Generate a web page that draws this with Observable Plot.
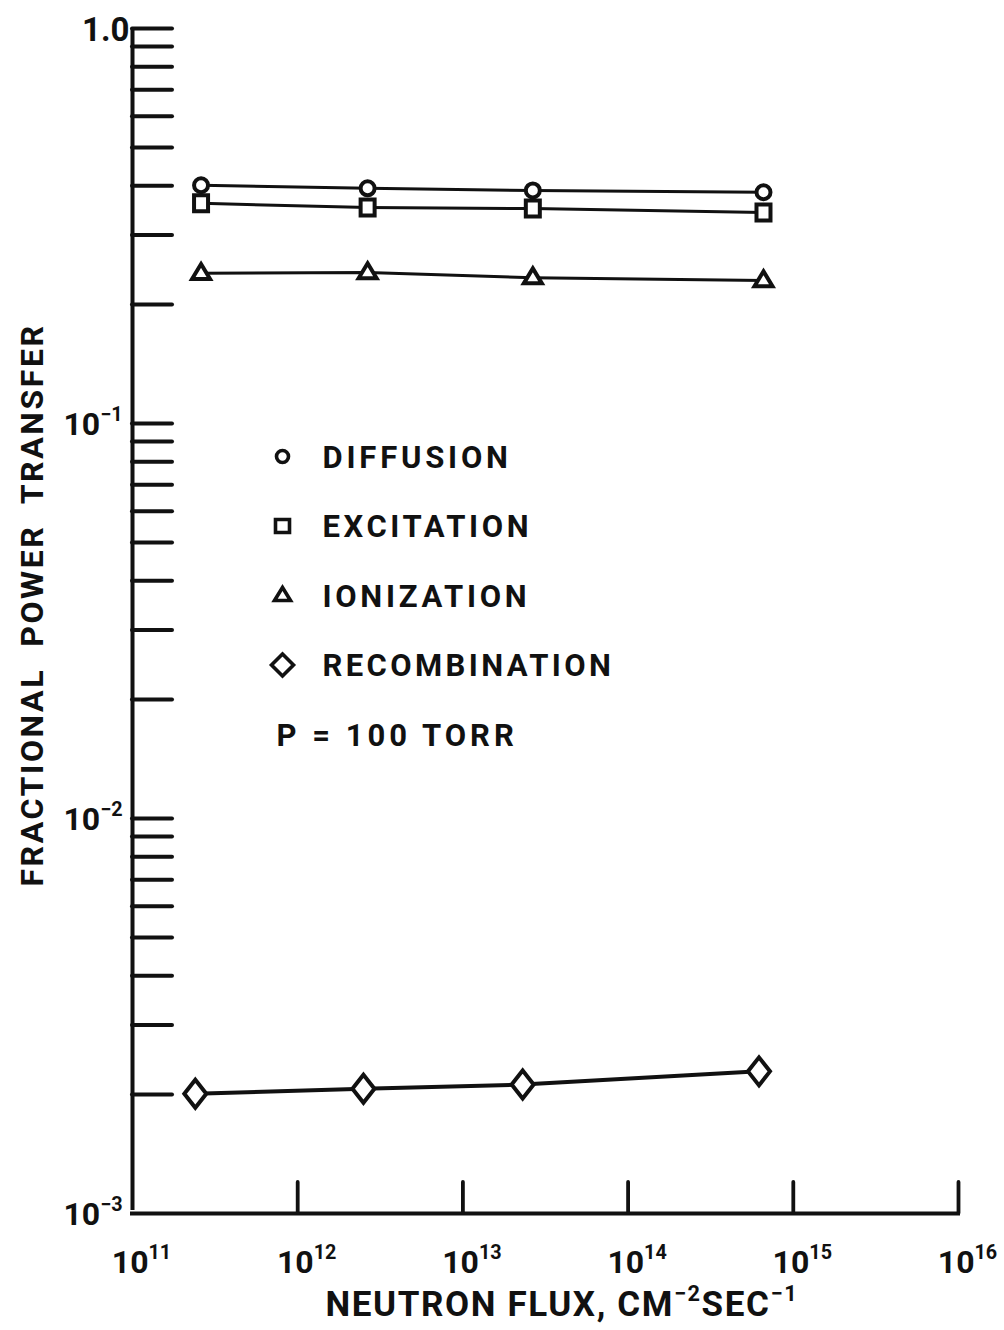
<!DOCTYPE html>
<html><head><meta charset="utf-8">
<script src="https://cdn.jsdelivr.net/npm/d3@7"></script>
<script src="https://cdn.jsdelivr.net/npm/@observablehq/plot@0.6"></script>
<style>
body{margin:0;background:#fff;}
#chart svg{display:block;background:#fff;}
</style></head><body><div id="chart"></div>
<script>
// ---- data ----
const fluxMain = [2.6e11, 2.65e12, 2.65e13, 6.6e14];
const fluxRecomb = [2.4e11, 2.5e12, 2.3e13, 6.2e14];
const diffusion = [0.401, 0.394, 0.389, 0.385];
const excitation = [0.361, 0.352, 0.350, 0.342];
const ionization = [0.240, 0.241, 0.234, 0.230];
const recombination = [0.00201, 0.00207, 0.00212, 0.00229];
const seriesNames = ["DIFFUSION", "EXCITATION", "IONIZATION", "RECOMBINATION"];
const noteText = "P = 100 TORR";
const xTitle = "NEUTRON FLUX, CM^{−2}SEC^{−1}";
const yTitle = "FRACTIONAL  POWER  TRANSFER";
const xTickValues = [1e11, 1e12, 1e13, 1e14, 1e15, 1e16];
const xTickLabels = ["10^{11}", "10^{12}", "10^{13}", "10^{14}", "10^{15}", "10^{16}"];
const yTickValues = [1, 0.1, 0.01, 0.001];
const yTickLabels = ["1.0", "10^{−1}", "10^{−2}", "10^{−3}"];
const yMinorTicks = [0.002,0.003,0.004,0.005,0.006,0.007,0.008,0.009,
  0.01,0.02,0.03,0.04,0.05,0.06,0.07,0.08,0.09,
  0.1,0.2,0.3,0.4,0.5,0.6,0.7,0.8,0.9,1];

// ---- layout ----
const W = 1004, H = 1330;
const mL = 132, mR = 46, mT = 28, mB = 117;
const fw = W - mL - mR, fh = H - mT - mB;
const ink = "#111";
const font = "Roboto";
const fwt = 700;

// custom marker shapes (fixed pixel sizes)
const rectSym = (w, h) => ({draw(c){ c.moveTo(-w,-h); c.lineTo(w,-h); c.lineTo(w,h); c.lineTo(-w,h); c.closePath(); }});
const triSym = (w, h) => ({draw(c){ c.moveTo(0,-h*0.62); c.lineTo(w,h*0.38); c.lineTo(-w,h*0.38); c.closePath(); }});
const diaSym = (w, h) => ({draw(c){ c.moveTo(0,-h); c.lineTo(w,0); c.lineTo(0,h); c.lineTo(-w,0); c.closePath(); }});
const circSym = (r) => ({draw(c){ c.moveTo(r,0); c.arc(0,0,r,0,2*Math.PI); c.closePath(); }});

const series = [
  {name: seriesNames[0], x: fluxMain, y: diffusion, sym: circSym(7), lsym: circSym(6), lw: 3},
  {name: seriesNames[1], x: fluxMain, y: excitation, sym: rectSym(7, 8), lsym: rectSym(7, 6.5), lw: 3},
  {name: seriesNames[2], x: fluxMain, y: ionization, sym: triSym(9, 15), lsym: triSym(8, 13), lw: 3},
  {name: seriesNames[3], x: fluxRecomb, y: recombination, sym: diaSym(11, 14), lsym: diaSym(11, 11), lw: 4}
];

const marks = [];
// axes lines
marks.push(Plot.ruleX([1e11], {stroke: ink, strokeWidth: 4, y1: 1e-3, y2: 1, insetTop: -3}));
marks.push(Plot.ruleY([1e-3], {stroke: ink, strokeWidth: 4, strokeLinecap: "square"}));
// y ticks (inward)
marks.push(Plot.tickY(yMinorTicks, {y: d => d, stroke: ink, strokeWidth: 4, insetRight: fw - 40, strokeLinecap: "round"}));
// x ticks (inward, up)
marks.push(Plot.tickX(xTickValues.slice(1), {x: d => d, stroke: ink, strokeWidth: 3.8, insetTop: fh - 31, strokeLinecap: "round"}));

// lines + markers
for (const s of series) {
  const data = s.x.map((x, i) => ({x, y: s.y[i]}));
  marks.push(Plot.line(data, {x: "x", y: "y", stroke: ink, strokeWidth: s.lw}));
}
for (const s of series) {
  const data = s.x.map((x, i) => ({x, y: s.y[i]}));
  marks.push(Plot.dot(data, {x: "x", y: "y", symbol: s.sym, r: 5, fill: "white", stroke: ink, strokeWidth: 4}));
}

// tick labels
marks.push(Plot.text(xTickValues, {x: d => d, text: (d, i) => xTickLabels[i], frameAnchor: "bottom",
  dy: 59, dx: 9, lineAnchor: "bottom", textAnchor: "middle", fontSize: 32, fontFamily: font, fontWeight: fwt, fill: ink}));
marks.push(Plot.text(yTickValues.slice(0, 1), {y: d => d, text: (d, i) => yTickLabels[i], frameAnchor: "left",
  dx: -3, dy: 12, lineAnchor: "bottom", textAnchor: "end", fontSize: 33, fontFamily: font, fontWeight: fwt, fill: ink}));
marks.push(Plot.text(yTickValues.slice(1), {y: d => d, text: (d, i) => yTickLabels[i + 1], frameAnchor: "left",
  dx: -10, dy: 11, lineAnchor: "bottom", textAnchor: "end", fontSize: 32, fontFamily: font, fontWeight: fwt, fill: ink}));

// axis titles
marks.push(Plot.text([xTitle], {text: d => d, frameAnchor: "bottom-left", dx: 193, dy: 102, lineAnchor: "bottom",
  textAnchor: "start", fontSize: 35, fontFamily: font, fontWeight: fwt, fill: ink}));
marks.push(Plot.text([yTitle], {text: d => d, frameAnchor: "left", dx: -100, dy: -16, rotate: -90,
  textAnchor: "middle", lineAnchor: "middle", fontSize: 32, fontFamily: font, fontWeight: fwt, fill: ink}));

// legend
const legBase = 439, legStep = 69.5;
series.forEach((s, i) => {
  marks.push(Plot.dot([s.name], {frameAnchor: "top-left", dx: 150, dy: legBase - 11 + i * legStep,
    symbol: s.lsym, r: 5, fill: "white", stroke: ink, strokeWidth: 3.6}));
  marks.push(Plot.text([s.name], {text: d => d, frameAnchor: "top-left", dx: 190, dy: legBase + i * legStep,
    lineAnchor: "bottom", textAnchor: "start", fontSize: 31, fontFamily: font, fontWeight: fwt, fill: ink}));
});
marks.push(Plot.text([noteText], {text: d => d, frameAnchor: "top-left", dx: 144, dy: legBase + 4 * legStep,
  lineAnchor: "bottom", textAnchor: "start", fontSize: 31, fontFamily: font, fontWeight: fwt, fill: ink}));

const chart = Plot.plot({
  width: W, height: H,
  marginLeft: mL, marginRight: mR, marginTop: mT, marginBottom: mB,
  x: {type: "log", domain: [1e11, 1e16], axis: null},
  y: {type: "log", domain: [1e-3, 1], axis: null},
  style: {background: "white", color: ink},
  marks
});
document.getElementById("chart").appendChild(chart);

// superscripts: turn "a^{b}c" into tspans
d3.select(chart).selectAll("text").each(function() {
  const t = this.textContent;
  if (!t.includes("^{")) return;
  const fs = parseFloat(getComputedStyle(this).fontSize) || 30;
  const parts = t.split(/(\^\{[^}]*\})/).filter(p => p.length);
  this.textContent = "";
  let up = false;
  for (const p of parts) {
    const ts = document.createElementNS("http://www.w3.org/2000/svg", "tspan");
    if (p.startsWith("^{")) {
      ts.textContent = p.slice(2, -1);
      ts.setAttribute("font-size", (fs * 0.62).toFixed(1));
      ts.setAttribute("dy", (-fs * 0.42).toFixed(1));
      up = true;
    } else {
      ts.textContent = p;
      if (up) { ts.setAttribute("dy", (fs * 0.42).toFixed(1)); up = false; }
    }
    this.appendChild(ts);
  }
});
// letter spacing to match the hand lettering
const spacing = new Map([[seriesNames[0], 3.8], [seriesNames[1], 3.6], [seriesNames[2], 3.7], [seriesNames[3], 3.4], [noteText, 4], [yTitle, 2.6]]);
d3.select(chart).selectAll("text").each(function() {
  const sp = spacing.get(this.textContent);
  if (sp != null) this.style.letterSpacing = sp + "px";
  if (this.textContent.startsWith("NEUTRON")) this.style.letterSpacing = "1.6px";
});
</script></body></html>
